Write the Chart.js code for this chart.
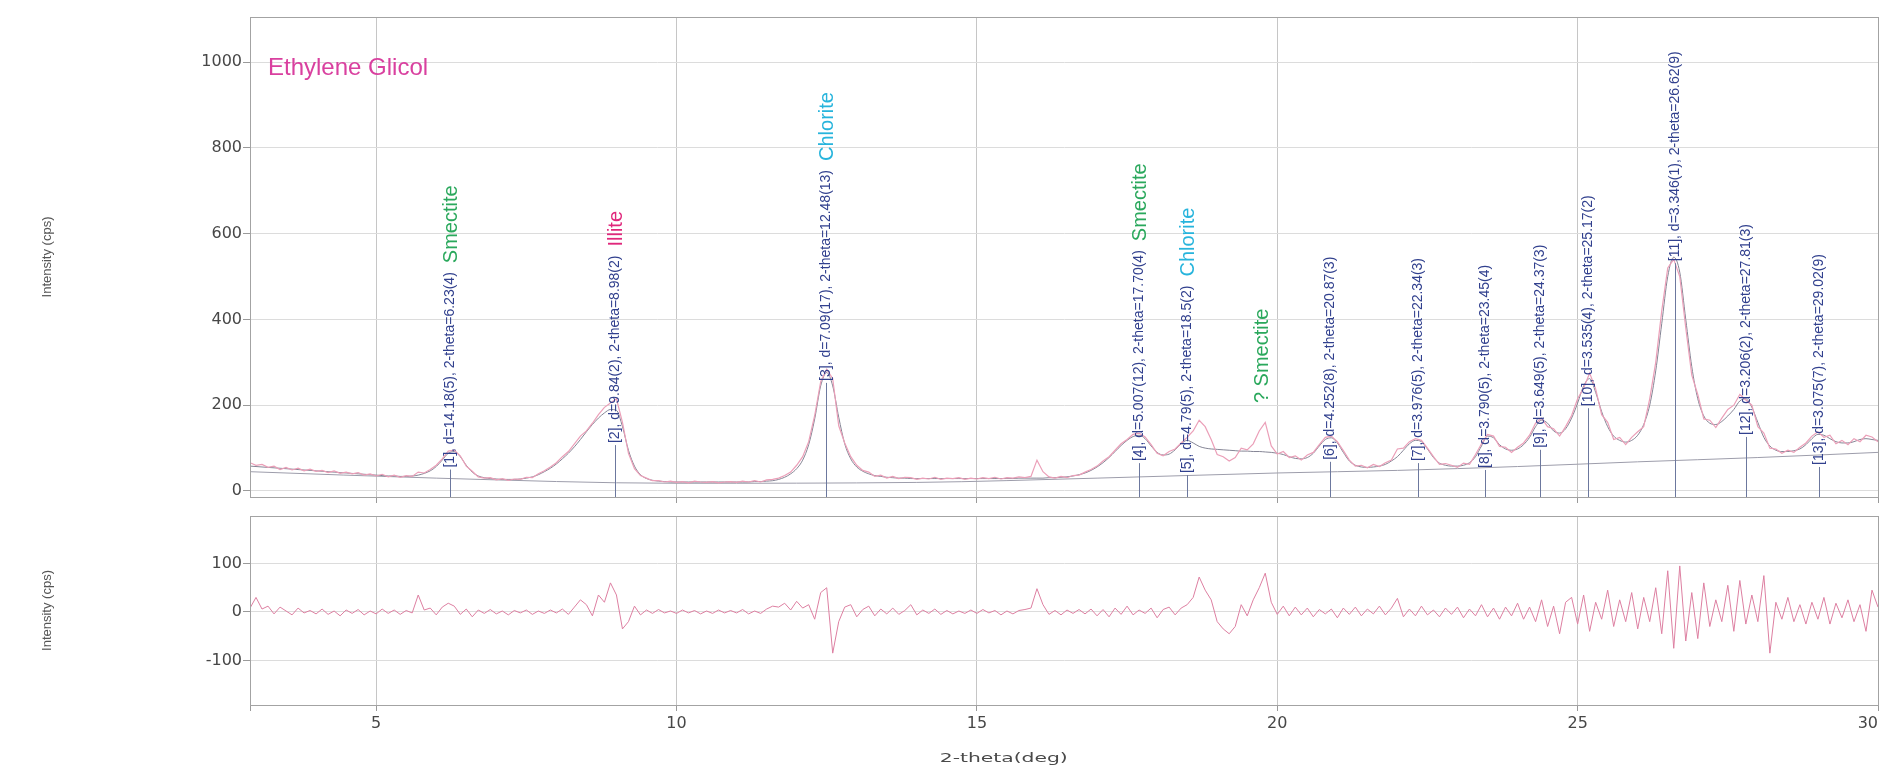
<!DOCTYPE html>
<html>
<head>
<meta charset="utf-8">
<script src="https://cdn.jsdelivr.net/npm/chart.js@4.4.1/dist/chart.umd.min.js"></script>
<style>
  html, body { margin: 0; padding: 0; background: #fff; }
  #wrap { position: relative; width: 1882px; height: 771px; }
  #wrap canvas { position: absolute; left: 0; top: 0; }
</style>
</head>
<body>
<div id="wrap">
  <canvas id="mainChart" width="1882" height="771"></canvas>
  <canvas id="diffChart" width="1882" height="771"></canvas>
</div>
<script>
// scan: 2-theta start / step (deg)
const twoThetaStart = 2.9;
const twoThetaStep = 0.1;

// calculated profile, one row = 1 deg (starting 2.9, 3.9, ...)
const calculatedIntensity = [
  58, 57, 56, 55, 54, 53, 52, 51, 50, 49,
  48, 47, 46, 45, 44, 43, 42, 41, 40, 39,
  38, 37, 36, 35, 35, 34, 34, 35, 37, 41,
  47, 57, 72, 88, 92, 80, 60, 44, 35, 31,
  29, 28, 27, 27, 27, 28, 30, 33, 38, 45,
  53, 63, 75, 88, 103, 120, 138, 155, 170, 182,
  190, 188, 150, 95, 58, 38, 29, 25, 23, 22,
  21, 21, 21, 21, 21, 21, 21, 21, 21, 21,
  21, 21, 21, 21, 22, 22, 23, 24, 27, 32,
  40, 52, 72, 108, 168, 245, 276, 245, 172, 110,
  75, 56, 46, 40, 36, 34, 32, 31, 30, 30,
  29, 29, 29, 29, 29, 29, 29, 29, 29, 29,
  29, 29, 29, 29, 29, 29, 29, 29, 30, 30,
  30, 30, 30, 31, 31, 32, 33, 35, 38, 42,
  48, 56, 66, 78, 92, 106, 118, 127, 130, 122,
  105, 90, 84, 86, 96, 110, 118, 112, 104, 100,
  98, 97, 96, 95, 94, 93, 93, 92, 92, 91,
  90, 88, 85, 80, 76, 75, 78, 88, 105, 120,
  124, 112, 90, 70, 60, 56, 55, 56, 58, 62,
  70, 80, 95, 110, 118, 115, 98, 78, 65, 60,
  58, 58, 60, 66, 80, 105, 128, 124, 108, 98,
  95, 98, 108, 125, 150, 165, 158, 140, 135, 145,
  170, 205, 245, 262, 230, 185, 150, 128, 118, 114,
  118, 130, 155, 200, 280, 390, 500, 545, 510, 400,
  290, 215, 175, 158, 155, 162, 175, 190, 210, 215,
  195, 160, 125, 105, 95, 92, 92, 94, 98, 108,
  122, 132, 130, 122, 115, 112, 112, 115, 120, 122,
  120, 118
];

// measured counts
const observedIntensity = [
  66, 60, 62, 55, 58, 50, 55, 49, 53, 47,
  51, 46, 48, 43, 47, 41, 44, 40, 43, 37,
  40, 35, 39, 33, 37, 32, 36, 34, 44, 42,
  50, 60, 75, 93, 95, 82, 58, 46, 33, 30,
  31, 26, 29, 25, 28, 27, 32, 31, 40, 47,
  56, 66, 80, 92, 110, 128, 140, 158, 178, 195,
  205, 215, 160, 88, 52, 36, 30, 24, 24, 21,
  23, 20, 22, 19, 23, 21, 20, 22, 19, 21,
  22, 20, 23, 21, 24, 21, 26, 27, 30, 36,
  44, 60, 80, 115, 176, 255, 284, 262, 152, 112,
  80, 60, 48, 44, 34, 37, 30, 34, 29, 32,
  31, 27, 30, 28, 32, 27, 30, 29, 31, 27,
  30, 28, 31, 29, 32, 28, 31, 30, 33, 31,
  34, 72, 45, 33, 30, 34, 31, 36, 37, 44,
  50, 58, 70, 80, 95, 110, 120, 132, 135, 126,
  108, 88, 82, 92, 98, 112, 125, 140, 165, 150,
  120, 85, 80, 70, 78, 100, 96, 110, 140, 160,
  105, 86, 92, 78, 82, 72, 84, 90, 108, 125,
  128, 115, 94, 72, 58, 60, 54, 62, 57, 66,
  72, 98, 100, 115, 122, 118, 100, 80, 62, 64,
  60, 55, 65, 62, 85, 110, 132, 128, 104, 102,
  90, 102, 112, 130, 158, 170, 150, 145, 128, 150,
  176, 215, 240, 275, 238, 178, 160, 120, 125, 108,
  125, 138, 150, 215, 300, 420, 520, 540, 500, 380,
  270, 225, 168, 165, 148, 170, 190, 200, 225, 212,
  200, 150, 135, 100, 98, 88, 95, 90, 102, 112,
  128, 138, 125, 130, 110, 118, 108, 122, 115, 130,
  126, 115
];

// difference curve (lower panel)
const residualIntensity = [
  8, 30, 6, 12, -4, 10, 2, -6, 8, -2,
  3, -4, 6, -5, 2, -8, 4, -3, 5, -6,
  2, -4, 6, -3, 4, -5, 3, -2, 35, 4,
  8, -6, 10, 18, 12, -5, 6, -10, 4, -3,
  5, -4, 2, -6, 3, -2, 4, -5, 2, -3,
  4, -2, 6, -5, 10, 25, 15, -8, 35, 20,
  60, 35, -35, -20, 12, -6, 4, -3, 5, -2,
  2, -3, 4, -2, 3, -4, 2, -3, 4, -2,
  3, -2, 5, -4, 2, -3, 6, 12, 10, 18,
  4, 22, 8, 15, -15, 40, 50, -85, -20, 10,
  15, -10, 5, 12, -8, 6, -4, 8, -5, 3,
  15, -6, 4, -3, 6, -5, 3, -4, 2, -3,
  4, -3, 5, -2, 3, -6, 2, -4, 3, 5,
  8, 48, 15, -5, 3, -6, 4, -3, 5, -4,
  6, -8, 5, -10, 8, -5, 12, -6, 4, -3,
  8, -12, 5, 10, -6, 8, 15, 30, 72, 45,
  25, -20, -35, -45, -30, 15, -8, 25, 50, 80,
  20, -5, 12, -8, 10, -6, 8, -10, 5, -4,
  6, -12, 8, -5, 10, -8, 6, -4, 12, -6,
  8, 28, -10, 6, -8, 12, -6, 4, -10, 8,
  -5, 10, -12, 6, -8, 15, -10, 8, -15, 10,
  -8, 18, -15, 10, -20, 25, -30, 12, -45, 20,
  30, -25, 35, -40, 20, -15, 45, -30, 25, -20,
  40, -35, 30, -20, 50, -45, 85, -75, 95, -60,
  40, -55, 60, -30, 25, -20, 55, -40, 65, -25,
  35, -20, 75, -85, 20, -15, 30, -20, 15, -25,
  20, -15, 30, -25, 18, -12, 25, -20, 15, -40,
  45, 10
];

// fitted background
const backgroundTwoTheta = [2.9, 6, 10, 14, 17, 20, 22, 24, 26, 28, 30];
const backgroundIntensity = [45, 30, 18, 20, 30, 42, 48, 57, 68, 78, 90];

// identified peaks
const peakPositions = [6.23, 8.98, 12.48, 17.70, 18.50, 20.87, 22.34, 23.45, 24.37, 25.17, 26.62, 27.81, 29.02];
const peakLabelBase = [50, 107, 252, 65, 37, 68, 65, 49, 96, 193, 531, 126, 56];
const peakLabels = [
  '[1], d=14.18(5), 2-theta=6.23(4)',
  '[2], d=9.84(2), 2-theta=8.98(2)',
  '[3], d=7.09(17), 2-theta=12.48(13)',
  '[4], d=5.007(12), 2-theta=17.70(4)',
  '[5], d=4.79(5), 2-theta=18.5(2)',
  '[6], d=4.252(8), 2-theta=20.87(3)',
  '[7], d=3.976(5), 2-theta=22.34(3)',
  '[8], d=3.790(5), 2-theta=23.45(4)',
  '[9], d=3.649(5), 2-theta=24.37(3)',
  '[10], d=3.535(4), 2-theta=25.17(2)',
  '[11], d=3.346(1), 2-theta=26.62(9)',
  '[12], d=3.206(2), 2-theta=27.81(3)',
  '[13], d=3.075(7), 2-theta=29.02(9)'
];
const peakPhases = ['Smectite', 'Illite', 'Chlorite', 'Smectite', 'Chlorite', '', '', '', '', '', '', '', ''];
const tentativePhase = { label: '? Smectite', twoTheta: 19.75, intensity: 205 };

const twoThetaTicks = [5, 10, 15, 20, 25, 30];
const intensityTicks = [0, 200, 400, 600, 800, 1000];
const residualTicks = [-100, 0, 100];

const phaseColors = { Smectite: '#2aa85c', Illite: '#e0287c', Chlorite: '#27b4dc' };

function toPoints(values) {
  return values.map((v, i) => ({ x: +(twoThetaStart + i * twoThetaStep).toFixed(2), y: v }));
}

const frame = {
  id: 'frame',
  afterDraw(chart) {
    const { ctx, chartArea: a } = chart;
    ctx.save();
    ctx.strokeStyle = '#a3a3a3';
    ctx.lineWidth = 1;
    ctx.strokeRect(Math.round(a.left) + 0.5, Math.round(a.top) + 0.5, Math.round(a.right - a.left), Math.round(a.bottom - a.top));
    ctx.restore();
  }
};

const peakMarkers = {
  id: 'peakMarkers',
  afterDatasetsDraw(chart) {
    const { ctx, chartArea, scales: { x, y } } = chart;
    ctx.save();
    peakPositions.forEach((pos, i) => {
      const px = Math.round(x.getPixelForValue(pos)) + 0.5;
      const py = y.getPixelForValue(peakLabelBase[i]);
      ctx.strokeStyle = '#6c789e';
      ctx.lineWidth = 1;
      ctx.beginPath();
      ctx.moveTo(px, py);
      ctx.lineTo(px, chartArea.bottom);
      ctx.stroke();

      ctx.save();
      ctx.translate(px, py - 2);
      ctx.rotate(-Math.PI / 2);
      ctx.textAlign = 'left';
      ctx.textBaseline = 'middle';
      ctx.font = '14px "Liberation Sans", Arial, sans-serif';
      ctx.fillStyle = '#31408e';
      ctx.fillText(peakLabels[i], 0, 0);
      if (peakPhases[i]) {
        const w = ctx.measureText(peakLabels[i]).width;
        ctx.font = '20px "Liberation Sans", Arial, sans-serif';
        ctx.fillStyle = phaseColors[peakPhases[i]];
        ctx.fillText(peakPhases[i], w + 9, 1);
      }
      ctx.restore();
    });

    // unindexed bump
    ctx.save();
    ctx.translate(x.getPixelForValue(tentativePhase.twoTheta), y.getPixelForValue(tentativePhase.intensity));
    ctx.rotate(-Math.PI / 2);
    ctx.textAlign = 'left';
    ctx.textBaseline = 'middle';
    ctx.font = '20px "Liberation Sans", Arial, sans-serif';
    ctx.fillStyle = phaseColors.Smectite;
    ctx.fillText(tentativePhase.label, 0, 0);
    ctx.restore();

    // sample treatment
    ctx.font = '24px "Liberation Sans", Arial, sans-serif';
    ctx.fillStyle = '#d9409f';
    ctx.textAlign = 'left';
    ctx.textBaseline = 'alphabetic';
    ctx.fillText('Ethylene Glicol', chartArea.left + 18, chartArea.top + 58);
    ctx.restore();
  }
};

const xTitle = {
  id: 'xTitle',
  afterDraw(chart) {
    const { ctx, chartArea: a } = chart;
    const text = '2-theta(deg)';
    ctx.save();
    ctx.font = '13px "DejaVu Sans", sans-serif';
    ctx.fillStyle = '#4a4a4a';
    ctx.textBaseline = 'middle';
    const w = ctx.measureText(text).width;
    const cx = a.left + (a.right - a.left) * 0.463;
    ctx.translate(cx - 64, 759);
    ctx.scale(128 / w, 1);
    ctx.fillText(text, 0, 0);
    ctx.restore();
  }
};

const tickFont = { family: '"DejaVu Sans", sans-serif', size: 16 };
const titleFont = { family: '"Liberation Sans", Arial, sans-serif', size: 13 };

function yAxis(min, max, tickValues) {
  return {
    min: min,
    max: max,
    afterBuildTicks: s => { s.ticks = tickValues.map(v => ({ value: v })); },
    ticks: { font: tickFont, color: '#474747', padding: 1, callback: v => String(v) },
    grid: { color: '#dcdcdc', tickLength: 7, tickColor: '#9a9a9a' },
    border: { color: '#a3a3a3' },
    title: { display: true, text: 'Intensity (cps)', font: titleFont, color: '#555', padding: { top: 40, bottom: 0 } },
    afterFit: s => { s.width = 250; }
  };
}

new Chart(document.getElementById('mainChart'), {
  type: 'line',
  data: {
    datasets: [
      {
        label: 'Observed',
        data: toPoints(observedIntensity),
        borderColor: '#eb9fb8',
        borderWidth: 1.2,
        pointRadius: 0,
        tension: 0
      },
      {
        label: 'Calculated',
        data: toPoints(calculatedIntensity),
        borderColor: '#858595',
        borderWidth: 1,
        pointRadius: 0,
        cubicInterpolationMode: 'monotone'
      },
      {
        label: 'Background',
        data: backgroundTwoTheta.map((t, i) => ({ x: t, y: backgroundIntensity[i] })),
        borderColor: '#9d9dab',
        borderWidth: 1,
        pointRadius: 0,
        cubicInterpolationMode: 'monotone'
      }
    ]
  },
  options: {
    responsive: false,
    animation: false,
    events: [],
    layout: { padding: { top: 17, right: 4, bottom: 266, left: 0 } },
    plugins: { legend: { display: false }, tooltip: { enabled: false } },
    scales: {
      x: {
        type: 'linear',
        min: twoThetaStart,
        max: 30,
        afterBuildTicks: s => { s.ticks = twoThetaTicks.map(v => ({ value: v })); },
        ticks: { display: false },
        grid: { color: '#c6c6c6', tickLength: 6, tickColor: '#9a9a9a' },
        border: { color: '#a3a3a3' },
        afterFit: s => { s.height = 8; s.paddingLeft = 0; s.paddingRight = 0; }
      },
      y: yAxis(-14, 1105, intensityTicks)
    }
  },
  plugins: [frame, peakMarkers]
});

new Chart(document.getElementById('diffChart'), {
  type: 'line',
  data: {
    datasets: [
      {
        label: 'Difference',
        data: toPoints(residualIntensity),
        borderColor: '#dd7fa1',
        borderWidth: 1,
        pointRadius: 0,
        tension: 0
      }
    ]
  },
  options: {
    responsive: false,
    animation: false,
    events: [],
    layout: { padding: { top: 516, right: 4, bottom: 26, left: 0 } },
    plugins: { legend: { display: false }, tooltip: { enabled: false } },
    scales: {
      x: {
        type: 'linear',
        min: twoThetaStart,
        max: 30,
        afterBuildTicks: s => { s.ticks = [{ value: twoThetaStart }].concat(twoThetaTicks.map(v => ({ value: v }))); },
        ticks: {
          font: tickFont,
          color: '#474747',
          padding: 3,
          align: 'inner',
          maxRotation: 0,
          autoSkip: false,
          callback: v => (twoThetaTicks.includes(v) ? String(v) : '')
        },
        grid: { color: '#c6c6c6', tickLength: 6, tickColor: '#9a9a9a' },
        border: { color: '#a3a3a3' },
        afterFit: s => { s.height = 40; s.paddingLeft = 0; s.paddingRight = 0; }
      },
      y: yAxis(-192, 198, residualTicks)
    }
  },
  plugins: [frame, xTitle]
});
</script>
</body>
</html>
